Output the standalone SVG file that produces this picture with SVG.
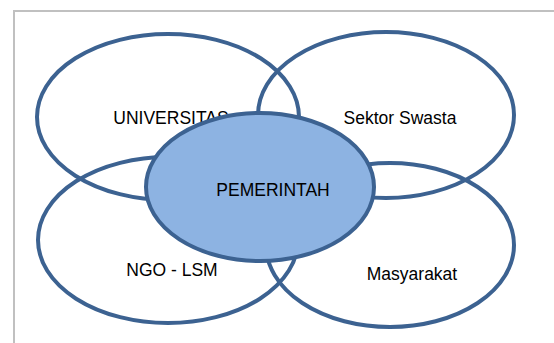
<svg xmlns="http://www.w3.org/2000/svg" width="554" height="343" viewBox="0 0 554 343">
<style>
.ring{fill:none;stroke:#3c6291;stroke-width:4}
.core{fill:#8db3e2;stroke:#3c6291;stroke-width:4}
.lbl{font-family:"Liberation Sans",Arial,sans-serif;font-size:17.5px;fill:#000;text-anchor:middle}
</style>
<rect x="0" y="0" width="554" height="343" fill="#fff"/>
<rect x="14" y="11" width="600" height="400" fill="none" stroke="#c0c0c0" stroke-width="2"/>
<g id="connectors"></g>
<g id="universitas">
<ellipse class="ring" cx="168" cy="117" rx="131" ry="83"/>
<text class="lbl" x="171" y="124">UNIVERSITAS</text>
</g>
<g id="sektor-swasta">
<ellipse class="ring" cx="386" cy="115" rx="128" ry="83"/>
<text class="lbl" x="400" y="124">Sektor Swasta</text>
</g>
<g id="ngo-lsm">
<ellipse class="ring" cx="168" cy="240" rx="130" ry="83"/>
<text class="lbl" x="172" y="276">NGO - LSM</text>
</g>
<g id="masyarakat">
<ellipse class="ring" cx="390" cy="245" rx="124" ry="82"/>
<text class="lbl" x="412" y="280">Masyarakat</text>
</g>
<g id="pemerintah">
<ellipse class="core" cx="260" cy="187" rx="114" ry="74"/>
<text class="lbl" x="273" y="196">PEMERINTAH</text>
</g>
</svg>
